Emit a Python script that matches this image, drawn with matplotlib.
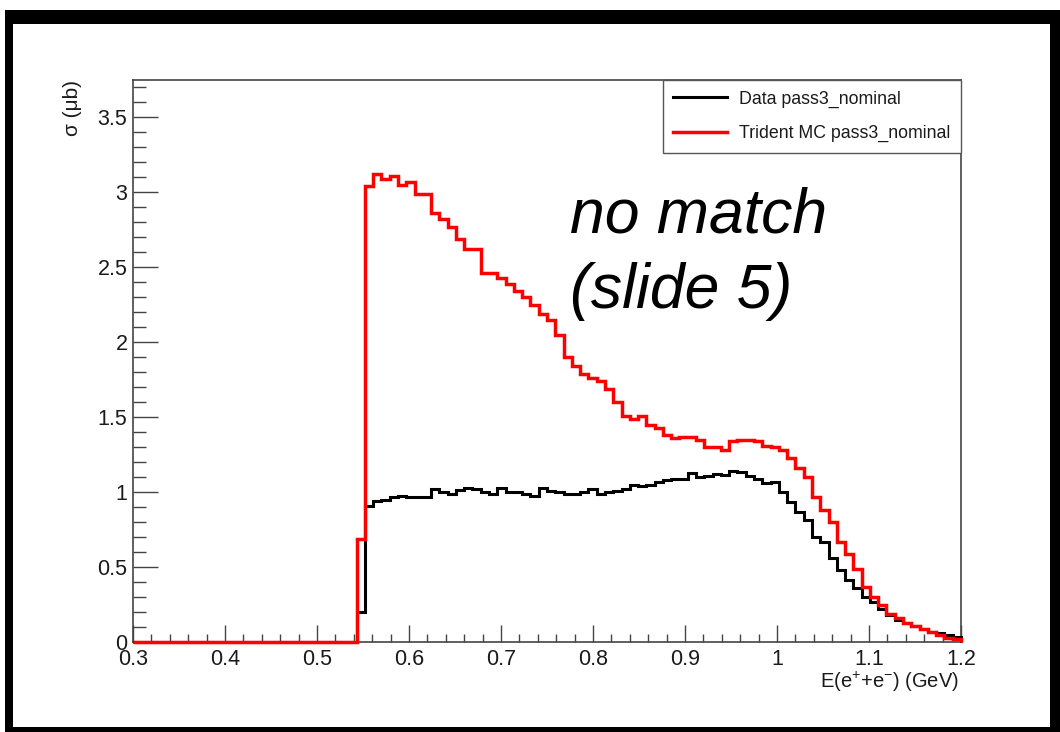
import numpy as np
import matplotlib
matplotlib.use("Agg")
import matplotlib.pyplot as plt
from matplotlib.patches import Rectangle
from matplotlib.ticker import MultipleLocator, FuncFormatter

plt.rcParams["font.family"] = ["Liberation Sans", "DejaVu Sans"]
plt.rcParams["mathtext.fontset"] = "custom"
plt.rcParams["mathtext.rm"] = "Liberation Sans"
plt.rcParams["mathtext.it"] = "Liberation Sans:italic"

# histogram binning: 100 bins over [0.3, 1.2] GeV
X_LO, X_HI, N_BINS = 0.3, 1.2, 100
N_EMPTY = 27  # first bins with no entries

data_vals = [
    0.20, 0.91, 0.94, 0.95, 0.965, 0.975, 0.97, 0.97, 0.965, 1.02,
    1.00, 0.99, 1.013, 1.03, 1.018, 0.998, 0.99, 1.03, 1.00, 1.00,
    0.99, 0.975, 1.025, 1.01, 0.998, 0.985, 0.99, 1.00, 1.018, 0.99,
    0.998, 1.01, 1.02, 1.045, 1.038, 1.05, 1.065, 1.08, 1.085, 1.085,
    1.13, 1.10, 1.11, 1.12, 1.115, 1.142, 1.133, 1.105, 1.087, 1.062,
    1.07, 1.00, 0.935, 0.87, 0.813, 0.70, 0.67, 0.557, 0.48, 0.413,
    0.36, 0.30, 0.265, 0.22, 0.18, 0.147, 0.125, 0.107, 0.085, 0.069,
    0.058, 0.047, 0.036,
]
mc_vals = [
    0.69, 3.04, 3.12, 3.09, 3.11, 3.05, 3.07, 2.99, 2.99, 2.86,
    2.82, 2.77, 2.69, 2.62, 2.62, 2.46, 2.46, 2.43, 2.39, 2.34,
    2.30, 2.25, 2.19, 2.15, 2.05, 1.90, 1.84, 1.79, 1.76, 1.74,
    1.69, 1.60, 1.51, 1.49, 1.51, 1.45, 1.43, 1.38, 1.36, 1.37,
    1.37, 1.35, 1.30, 1.30, 1.28, 1.34, 1.35, 1.35, 1.34, 1.31,
    1.30, 1.28, 1.23, 1.16, 1.10, 0.97, 0.88, 0.80, 0.67, 0.59,
    0.49, 0.37, 0.30, 0.245, 0.19, 0.16, 0.13, 0.105, 0.085, 0.065,
    0.045, 0.03, 0.02,
]
labels = ["Data pass3_nominal", "Trident MC pass3_nominal"]

W, H = 1060, 732
fig = plt.figure(figsize=(W / 100, H / 100), dpi=100)

# slide-style black frame around the plot
fig.patches.append(Rectangle((5 / W, 0), (W - 5) / W, (H - 10) / H,
                             transform=fig.transFigure, facecolor="black",
                             edgecolor="none", zorder=-10))
fig.patches.append(Rectangle((13 / W, 5 / H), (1050 - 13) / W, (727 - 24) / H,
                             transform=fig.transFigure, facecolor="white",
                             edgecolor="none", zorder=-9))

ax = fig.add_axes([133 / W, 1 - 642 / H, 828 / W, 562 / H])

edges = np.linspace(X_LO, X_HI, N_BINS + 1)
data = np.array([0.0] * N_EMPTY + data_vals)
mc = np.array([0.0] * N_EMPTY + mc_vals)

ax.stairs(data, edges, color="black", lw=2.2, label=labels[0], clip_on=False, zorder=3)
ax.stairs(mc, edges, color="#ff0000", lw=2.5, label=labels[1], clip_on=False, zorder=4)

ax.set_xlim(X_LO, X_HI)
ax.set_ylim(0, 3.747)

frame_col = "#444444"
for sp in ax.spines.values():
    sp.set_color(frame_col)
    sp.set_linewidth(1.2)

ax.xaxis.set_major_locator(MultipleLocator(0.1))
ax.xaxis.set_minor_locator(MultipleLocator(0.02))
ax.yaxis.set_major_locator(MultipleLocator(0.5))
ax.yaxis.set_minor_locator(MultipleLocator(0.1))
fmt = FuncFormatter(lambda v, p: f"{v:.10g}")
ax.xaxis.set_major_formatter(fmt)
ax.yaxis.set_major_formatter(fmt)

ax.tick_params(axis="both", which="both", direction="in", color=frame_col,
               labelcolor="#1a1a1a", labelsize=15.5, top=False, right=False)
ax.tick_params(axis="x", which="major", length=12, width=1, pad=5)
ax.tick_params(axis="x", which="minor", length=6, width=1)
ax.tick_params(axis="y", which="major", length=18, width=1, pad=4)
ax.tick_params(axis="y", which="minor", length=9.4, width=1)

ax.text(-0.062, 1.0, "σ (μb)", transform=ax.transAxes, rotation=90,
        rotation_mode="anchor", ha="right", va="bottom", fontsize=15,
        color="#1a1a1a")
ax.text(0.997, -0.071, r"E(e$^{+}$+e$^{-}$) (GeV)", transform=ax.transAxes,
        ha="right", va="center", fontsize=14.5, color="#1a1a1a")

ax.text(0.528, 0.7295, "no match", transform=ax.transAxes, fontsize=45,
        fontstyle="italic", ha="left", va="baseline", color="black")
ax.text(0.528, 0.594, "(slide 5)", transform=ax.transAxes, fontsize=45,
        fontstyle="italic", ha="left", va="baseline", color="black")

leg = ax.legend(loc="upper right", bbox_to_anchor=(1.0, 1.0), borderaxespad=0,
                fancybox=False, framealpha=1, edgecolor="#555555", fontsize=12.8,
                handlelength=3.0, handletextpad=0.7, labelspacing=0.95,
                borderpad=0.6)
leg.get_frame().set_linewidth(1.0)
for t in leg.get_texts():
    t.set_color("#1a1a1a")

fig.savefig("out.png", dpi=100)
